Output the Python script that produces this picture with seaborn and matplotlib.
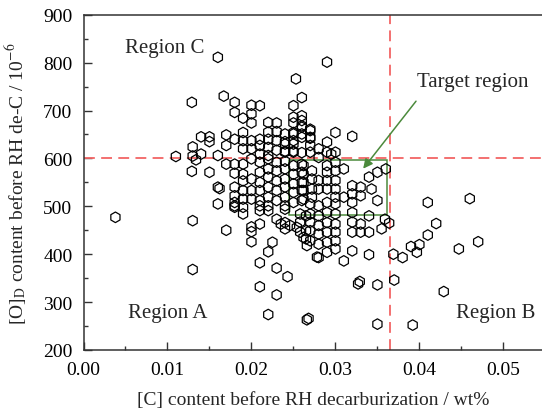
import matplotlib
matplotlib.use("Agg")
import matplotlib.pyplot as plt
import seaborn as sns
import pandas as pd
from matplotlib.ticker import MultipleLocator
from matplotlib.patches import Rectangle

# ---- data: [C] content (wt%) and [O]D content (10^-6) ----
c_isolated = [0.0038, 0.013, 0.013, 0.017, 0.016, 0.020, 0.020, 0.020, 0.021, 0.0225,
              0.022, 0.021, 0.023, 0.0243, 0.021, 0.023, 0.022, 0.0266, 0.0268, 0.0278]
o_isolated = [477, 470, 368, 450, 505, 457, 447, 426, 463, 425,
              405, 382, 371, 353, 332, 315, 274, 263, 266, 394]

c_right = [0.041, 0.046, 0.042, 0.041, 0.047, 0.0447, 0.040, 0.039, 0.0397, 0.038,
           0.0369, 0.0364, 0.0355, 0.0359, 0.034, 0.032, 0.031, 0.0329, 0.0327, 0.035,
           0.037, 0.0429, 0.035, 0.0392]
o_right = [508, 516, 464, 440, 426, 411, 420, 416, 404, 393,
           400, 465, 453, 473, 399, 407, 386, 343, 338, 336,
           346, 322, 254, 252]

c_upper = [0.016, 0.0253, 0.026, 0.025, 0.0129, 0.0167, 0.018, 0.018, 0.019, 0.020,
           0.021, 0.020, 0.020, 0.022, 0.023, 0.022, 0.023, 0.025, 0.025, 0.026,
           0.027, 0.027, 0.024, 0.029, 0.030, 0.032, 0.026]
o_upper = [811, 766, 727, 710, 717, 730, 717, 696, 684, 711,
           710, 693, 674, 675, 674, 655, 656, 686, 674, 679,
           661, 642, 651, 801, 654, 646, 689]

c_left = [0.014, 0.015, 0.015, 0.017, 0.017, 0.019, 0.019, 0.019, 0.018, 0.020,
          0.020, 0.021, 0.021, 0.021, 0.022, 0.022, 0.022, 0.023, 0.023, 0.024,
          0.024, 0.024, 0.025, 0.025, 0.025, 0.026, 0.026, 0.013, 0.013, 0.014,
          0.011, 0.0134, 0.0129, 0.015, 0.016, 0.017, 0.018, 0.018, 0.019, 0.019,
          0.016, 0.0162, 0.018, 0.018, 0.019]
o_left = [645, 645, 635, 649, 627, 654, 637, 620, 640, 637,
          620, 640, 627, 609, 640, 623, 606, 637, 617, 635,
          615, 594, 654, 637, 615, 612, 588, 624, 605, 609,
          604, 597, 573, 571, 606, 588, 588, 569, 588, 567,
          540, 537, 540, 522, 533]

c_mid = [0.019, 0.019, 0.019, 0.018,
         0.020, 0.020, 0.020, 0.020,
         0.021, 0.021, 0.021, 0.021, 0.021,
         0.022, 0.022, 0.022, 0.022, 0.022, 0.022,
         0.023, 0.023, 0.023, 0.023, 0.023,
         0.024, 0.024, 0.024, 0.024, 0.024, 0.024, 0.024,
         0.025, 0.025, 0.025, 0.025, 0.025, 0.025, 0.025, 0.025,
         0.026, 0.026, 0.026, 0.026, 0.026, 0.026,
         0.027, 0.027]
o_mid = [553, 515, 498, 501,
         599, 557, 533, 515,
         592, 571, 550, 533, 512,
         599, 578, 561, 540, 519, 501,
         592, 574, 553, 533, 512,
         630, 613, 578, 557, 540, 519, 501,
         651, 630, 613, 585, 567, 547, 529, 508,
         665, 644, 571, 550, 533, 512,
         658, 627]

c_low = [0.018, 0.018, 0.019, 0.021, 0.021, 0.022, 0.023, 0.0235, 0.024, 0.024,
         0.024, 0.0246, 0.0254, 0.0258, 0.0258, 0.0262, 0.0266, 0.0258,
         0.027, 0.027, 0.027, 0.027, 0.027,
         0.028, 0.028, 0.028, 0.028, 0.028, 0.028,
         0.029, 0.029, 0.029, 0.029, 0.029, 0.029,
         0.030, 0.030, 0.030, 0.030, 0.030, 0.030,
         0.032, 0.032, 0.032, 0.032, 0.033, 0.033, 0.034, 0.034, 0.035,
         0.0265, 0.0265, 0.0265]
o_low = [508, 498, 484, 501, 491, 491, 473, 463, 466, 453,
         494, 460, 456, 467, 446, 435, 418, 484,
         505, 484, 467, 449, 428,
         501, 480, 460, 442, 421, 393,
         508, 487, 466, 446, 425, 404,
         505, 484, 463, 446, 428, 411,
         508, 487, 467, 446, 463, 446, 480, 446, 512,
         480, 449, 432]

c_target = [0.026, 0.026, 0.027, 0.027, 0.029, 0.029, 0.029, 0.029, 0.029, 0.029,
            0.028, 0.028, 0.028, 0.028, 0.030, 0.030, 0.030, 0.030, 0.030, 0.030,
            0.031, 0.031, 0.032, 0.032, 0.033, 0.033, 0.034, 0.035, 0.036, 0.0343,
            0.0262, 0.0262, 0.0262, 0.0262, 0.0262, 0.0272, 0.0272, 0.0272, 0.0272,
            0.0295]
o_target = [668, 651, 644, 613, 634, 613, 585, 571, 554, 536,
            620, 602, 554, 536, 613, 592, 574, 554, 536, 519,
            578, 519, 543, 526, 540, 522, 561, 571, 578, 536,
            585, 567, 550, 533, 515, 574, 557, 536, 519,
            609]

x_ticks = [0.00, 0.01, 0.02, 0.03, 0.04, 0.05]
x_tick_labels = ["0.00", "0.01", "0.02", "0.03", "0.04", "0.05"]
y_ticks = [200, 300, 400, 500, 600, 700, 800, 900]

c_all = c_isolated + c_right + c_upper + c_left + c_mid + c_low + c_target
o_all = o_isolated + o_right + o_upper + o_left + o_mid + o_low + o_target
df = pd.DataFrame({"C": c_all, "O": o_all})

# ---- style ----
sns.set_style("white")
plt.rcParams["font.family"] = ["Liberation Serif", "DejaVu Serif"]
plt.rcParams["mathtext.fontset"] = "stix"

fig = plt.figure(figsize=(5.42, 4.14), dpi=100)
ax = fig.add_axes([83.5 / 542, 63 / 414, 1 - 83.5 / 542, (351 - 15.7) / 414])

sns.scatterplot(data=df, x="C", y="O", ax=ax, marker="h", s=58,
                facecolor="none", edgecolor="black", linewidth=0.9, zorder=3)

ax.set_xlim(0, 0.0546)
ax.set_ylim(200, 900)
ax.set_xticks(x_ticks)
ax.set_xticklabels(x_tick_labels)
ax.set_yticks(y_ticks)
ax.xaxis.set_minor_locator(MultipleLocator(0.005))
ax.yaxis.set_minor_locator(MultipleLocator(50))
ax.tick_params(which="both", direction="in", colors="#333333", labelcolor="black",
               labelsize=14, top=False, right=False, bottom=True, left=True)
ax.tick_params(which="major", length=5.5, width=1, pad=8)
ax.tick_params(which="minor", length=3, width=1)
for side in ["left", "bottom", "top"]:
    ax.spines[side].set_color("#333333")
    ax.spines[side].set_linewidth(1.1)
ax.spines["right"].set_visible(False)

ax.set_xlabel("[C] content before RH decarburization / wt%", fontsize=14, labelpad=9)
ax.set_ylabel(r"[O]$_\mathrm{D}$ content before RH de-C / 10$^{-6}$", fontsize=14, labelpad=10)

red = "#f26464"
ax.axhline(600, color=red, ls=(0, (6, 3.5)), lw=1.3, zorder=2)
ax.axvline(0.0365, color=red, ls=(0, (6, 3.5)), lw=1.3, zorder=2)

green = "#4b8a3c"
ax.add_patch(Rectangle((0.0245, 482), 0.0117, 115, fill=False, ec=green, lw=1.1, zorder=2))
ax.annotate("", xy=(0.0331, 574), xytext=(0.0398, 724),
            arrowprops=dict(arrowstyle="-|>", color=green, lw=1.1, mutation_scale=14))

ax.text(0.0097, 832, "Region C", fontsize=15, ha="center", va="center")
ax.text(0.0100, 279, "Region A", fontsize=15, ha="center", va="center")
ax.text(0.0491, 279, "Region B", fontsize=15, ha="center", va="center")
ax.text(0.0463, 760, "Target region", fontsize=15, ha="center", va="center")

fig.savefig("out.png", dpi=100)
